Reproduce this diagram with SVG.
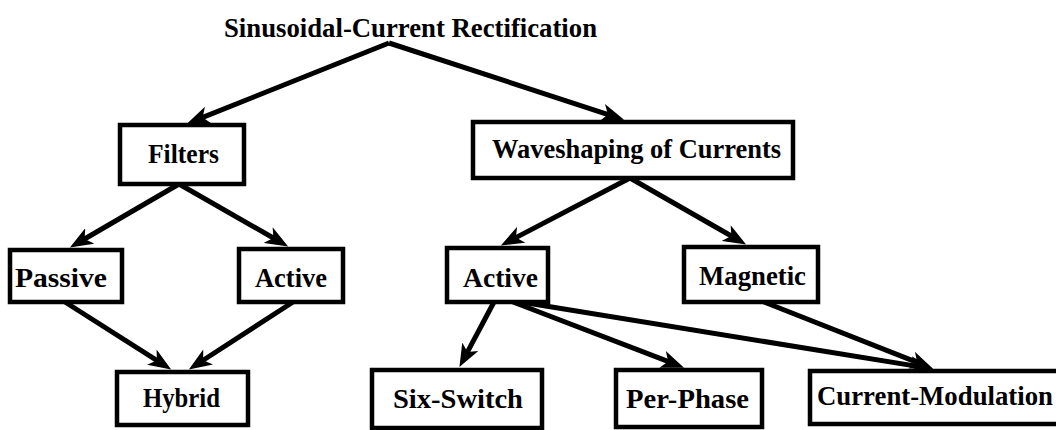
<svg xmlns="http://www.w3.org/2000/svg" width="1056" height="430" viewBox="0 0 1056 430">
<style>
.box{fill:#fff;stroke:#000;stroke-width:4.5}
.lbl{font-family:"Liberation Serif","Times New Roman",serif;font-weight:bold;font-size:27px;fill:#000}
.edge{stroke:#000;stroke-width:5;fill:none;marker-end:url(#ah)}
</style>
<defs>
<marker id="ah" markerUnits="userSpaceOnUse" markerWidth="24" markerHeight="18" refX="12" refY="9" orient="auto">
<path d="M0,0 L23,9 L0,18 L6,9 z" fill="#000"/>
</marker>
</defs>
<rect width="1056" height="430" fill="#fff"/>
<g id="title"><text class="lbl" x="224" y="37" textLength="373" lengthAdjust="spacingAndGlyphs">Sinusoidal-Current Rectification</text></g>
<g id="connectors">
<line class="edge" x1="389" y1="43" x2="197.1" y2="119.6"/>
<line class="edge" x1="389" y1="43" x2="613.6" y2="116.3"/>
<line class="edge" x1="179" y1="184" x2="79.4" y2="242"/>
<line class="edge" x1="179" y1="184" x2="278.6" y2="241"/>
<line class="edge" x1="65" y1="302" x2="161.9" y2="363.6"/>
<line class="edge" x1="293" y1="302" x2="198.1" y2="363.5"/>
<line class="edge" x1="630" y1="178" x2="510.6" y2="240.4"/>
<line class="edge" x1="630" y1="178" x2="736.6" y2="239"/>
<line class="edge" x1="494" y1="302" x2="464.6" y2="357.4"/>
<line class="edge" x1="513" y1="302" x2="673.8" y2="363.7"/>
<line class="edge" x1="521" y1="302" x2="922.2" y2="367.1"/>
<line class="edge" x1="764" y1="302" x2="922.8" y2="364.6"/>
</g>
<g id="filters"><rect class="box" x="120" y="125" width="124" height="59"/><text class="lbl" x="148" y="163" textLength="71" lengthAdjust="spacingAndGlyphs">Filters</text></g>
<g id="waveshaping"><rect class="box" x="473" y="122" width="320" height="56"/><text class="lbl" x="492" y="158" textLength="289" lengthAdjust="spacingAndGlyphs">Waveshaping of Currents</text></g>
<g id="passive"><rect class="box" x="10" y="250" width="112" height="52"/><text class="lbl" x="15" y="287" textLength="92" lengthAdjust="spacingAndGlyphs">Passive</text></g>
<g id="active-filter"><rect class="box" x="239" y="249" width="104" height="53"/><text class="lbl" x="255" y="287" textLength="72" lengthAdjust="spacingAndGlyphs">Active</text></g>
<g id="active-wave"><rect class="box" x="447" y="248" width="101" height="54"/><text class="lbl" x="463" y="287" textLength="75" lengthAdjust="spacingAndGlyphs">Active</text></g>
<g id="magnetic"><rect class="box" x="684" y="247" width="134" height="55"/><text class="lbl" x="699" y="285" textLength="107" lengthAdjust="spacingAndGlyphs">Magnetic</text></g>
<g id="hybrid"><rect class="box" x="117" y="372" width="131" height="53"/><text class="lbl" x="143" y="407" textLength="77" lengthAdjust="spacingAndGlyphs">Hybrid</text></g>
<g id="six-switch"><rect class="box" x="372" y="370" width="170" height="58"/><text class="lbl" x="393" y="408" textLength="130" lengthAdjust="spacingAndGlyphs">Six-Switch</text></g>
<g id="per-phase"><rect class="box" x="616" y="370" width="146" height="57"/><text class="lbl" x="626" y="408" textLength="123" lengthAdjust="spacingAndGlyphs">Per-Phase</text></g>
<g id="current-modulation"><rect class="box" x="810" y="371" width="260" height="53"/><text class="lbl" x="817" y="405" textLength="236" lengthAdjust="spacingAndGlyphs">Current-Modulation</text></g>
</svg>
